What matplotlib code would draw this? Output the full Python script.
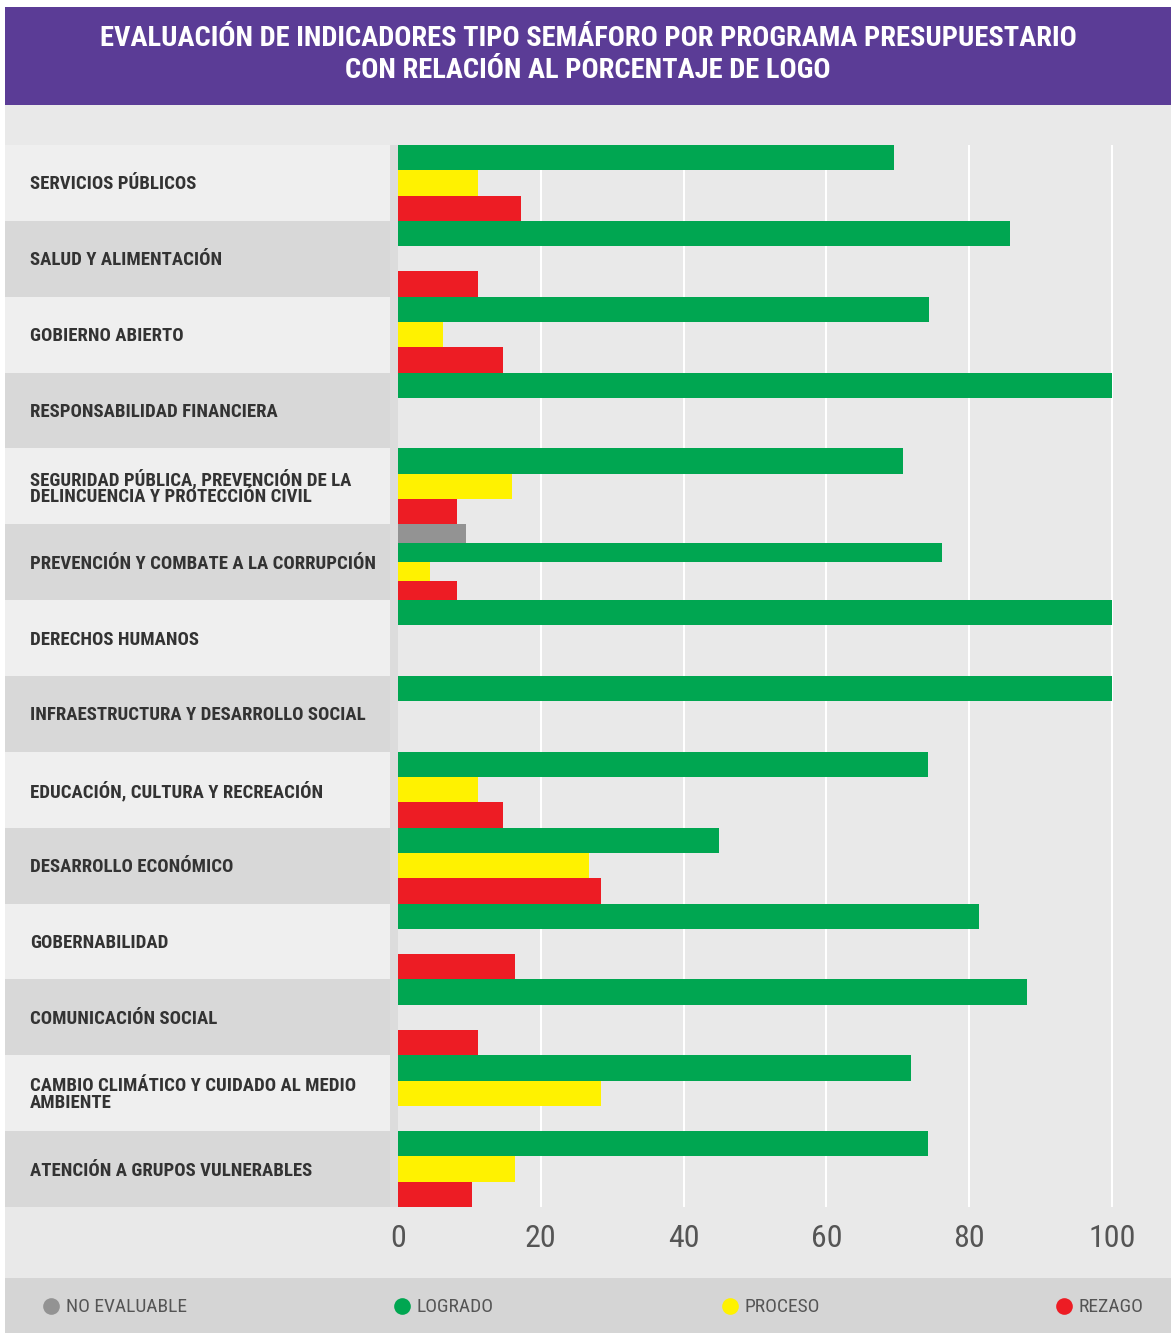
import matplotlib
matplotlib.use('Agg')
import matplotlib.pyplot as plt
import matplotlib.transforms as mtransforms
from matplotlib.patches import Rectangle
from matplotlib import font_manager
import numpy as np

# Programas presupuestarios (de arriba hacia abajo)
categories = [
    'SERVICIOS PÚBLICOS',
    'SALUD Y ALIMENTACIÓN',
    'GOBIERNO ABIERTO',
    'RESPONSABILIDAD FINANCIERA',
    'SEGURIDAD PÚBLICA, PREVENCIÓN DE LA\nDELINCUENCIA Y PROTECCIÓN CIVIL',
    'PREVENCIÓN Y COMBATE A LA CORRUPCIÓN',
    'DERECHOS HUMANOS',
    'INFRAESTRUCTURA Y DESARROLLO SOCIAL',
    'EDUCACIÓN, CULTURA Y RECREACIÓN',
    'DESARROLLO ECONÓMICO',
    'GOBERNABILIDAD',
    'COMUNICACIÓN SOCIAL',
    'CAMBIO CLIMÁTICO Y CUIDADO AL MEDIO\nAMBIENTE',
    'ATENCIÓN A GRUPOS VULNERABLES',
]
# % de indicadores por semaforo
no_evaluable = [np.nan, np.nan, np.nan, np.nan, np.nan, 9.5, np.nan,
                np.nan, np.nan, np.nan, np.nan, np.nan, np.nan, np.nan]
logrado = [69.5, 85.7, 74.4, 100, 70.7, 76.2, 100, 100, 74.2, 45.0, 81.4, 88.1, 71.8, 74.2]
proceso = [11.2, 0, 6.3, 0, 15.9, 4.5, 0, 0, 11.2, 26.7, 0, 0, 28.5, 16.4]
rezago = [17.2, 11.2, 14.7, 0, 8.3, 8.3, 0, 0, 14.7, 28.5, 16.4, 11.2, 0, 10.4]
xticks = [0, 20, 40, 60, 80, 100]
legend_labels = ['NO EVALUABLE', 'LOGRADO', 'PROCESO', 'REZAGO']

GRAY, GREEN, YELLOW, RED = '#939393', '#00a651', '#fff200', '#ed1c24'
PURPLE = '#5b3c96'

installed = {f.name for f in font_manager.fontManager.ttflist}
COND = next((f for f in ['Roboto Condensed', 'Liberation Sans Narrow', 'Open Sans Condensed']
             if f in installed), 'Roboto')
plt.rcParams['font.family'] = [COND, 'DejaVu Sans']

W, H = 1171, 1333
fig = plt.figure(figsize=(W / 100, H / 100), dpi=100)

# background layer in pixel coordinates
bg = fig.add_axes([0, 0, 1, 1])
bg.set_xlim(0, W)
bg.set_ylim(H, 0)
bg.axis('off')

bg.add_patch(Rectangle((5, 7), W - 5, 98, color=PURPLE, lw=0))
bg.add_patch(Rectangle((5, 105), W - 5, 1173, color='#e9e9e9', lw=0))
bg.add_patch(Rectangle((5, 1278), W - 5, 55, color='#d5d5d5', lw=0))

bg.text(588, 39, 'EVALUACIÓN DE INDICADORES TIPO SEMÁFORO POR PROGRAMA PRESUPUESTARIO',
        ha='center', va='center', color='white', fontsize=20.5, weight='bold')
bg.text(588, 71, 'CON RELACIÓN AL PORCENTAJE DE LOGO',
        ha='center', va='center', color='white', fontsize=20.5, weight='bold')

n = len(categories)
plot_top, plot_bot = 145, 1207
band_h = (plot_bot - plot_top) / n
for i in range(n):
    col = '#efefef' if i % 2 == 0 else '#d8d8d8'
    bg.add_patch(Rectangle((5, plot_top + i * band_h), 393, band_h, color=col, lw=0))
bg.add_patch(Rectangle((390, plot_top), 8, plot_bot - plot_top, color='#dcdcdc', lw=0))

# bar axes
x0 = 398
px_per_unit = 7.14
ax = fig.add_axes([x0 / W, 1 - plot_bot / H, (W - x0) / W, (plot_bot - plot_top) / H])
ax.set_xlim(0, (W - x0) / px_per_unit)
ax.set_ylim(n, 0)
ax.patch.set_alpha(0)
for s in ax.spines.values():
    s.set_visible(False)

for i in range(n):
    series = []
    if not np.isnan(no_evaluable[i]):
        series.append((no_evaluable[i], GRAY))
    series += [(logrado[i], GREEN), (proceso[i], YELLOW), (rezago[i], RED)]
    k = len(series)
    for j, (val, col) in enumerate(series):
        ax.barh(i + (j + 0.5) / k, val, height=1 / k, color=col, lw=0, zorder=3)

ax.set_xticks(xticks)
ax.set_yticks([])
ax.grid(axis='x', color='white', lw=1.5, zorder=1)
ax.get_xgridlines()[0].set_visible(False)
ax.tick_params(axis='x', length=0, pad=12, labelsize=23, labelcolor='#555555')

# category labels
trans = mtransforms.blended_transform_factory(bg.transData, ax.transData)
for i, lab in enumerate(categories):
    ax.text(30, i + 0.52, lab, transform=trans, ha='left', va='center',
            fontsize=13.5, color='#333333', weight='semibold', linespacing=0.9)

# legend
leg_x = [51, 402, 730, 1064]
for lx, lab, col in zip(leg_x, legend_labels, [GRAY, GREEN, YELLOW, RED]):
    bg.plot(lx, 1306, 'o', color=col, markersize=12, mec='none')
    bg.text(lx + 15, 1307, lab, ha='left', va='center', fontsize=14, color='#555555')

plt.savefig('out.png', dpi=100)
